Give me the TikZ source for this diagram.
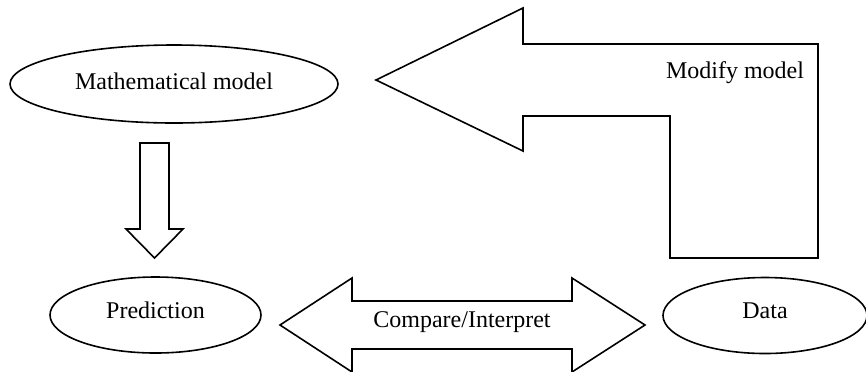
\documentclass[tikz,border=0pt]{standalone}
\usepackage{fontspec}
\setmainfont{Liberation Serif}
\usetikzlibrary{shapes.geometric}

\tikzset{
	oval/.style={ellipse, draw=black, line width=0.8pt, inner sep=0pt},
	blockarrow/.style={draw=black, line width=0.8pt, line join=miter}
}

\begin{document}
\begin{tikzpicture}[x=0.5pt, y=-0.5pt, font=\fontsize{12}{14}\selectfont]

\useasboundingbox (0,0) rectangle (866,371);

\node (model) at (174,84) [oval, minimum width=164pt, minimum height=39pt, text depth=2.5pt] {Mathematical model};
\node (pred) at (155.5,315) [oval, minimum width=105.5pt, minimum height=38pt, text depth=4.5pt] {Prediction};
\node (data) at (765,315.5) [oval, minimum width=102pt, minimum height=38pt, text depth=4.5pt] {Data};

% model to prediction
\draw[blockarrow] (140,143) -- (169,143) -- (169,229) -- (183,229) -- (154.5,258) -- (126,229) -- (140,229) -- cycle;

% prediction and data
\draw[blockarrow] (280,325) -- (352,278) -- (352,301) -- (572,301) -- (572,278) -- (645,325) -- (572,372) -- (572,349) -- (352,349) -- (352,372) -- cycle;
\node (cmp) at (462,322) {Compare/Interpret};

% data back to model
\draw[blockarrow] (376,80) -- (523,8) -- (523,44) -- (818,44) -- (818,258) -- (670,258) -- (670,116) -- (523,116) -- (523,151) -- cycle;
\node (modify) at (735,73) {Modify model};

\end{tikzpicture}
\end{document}
